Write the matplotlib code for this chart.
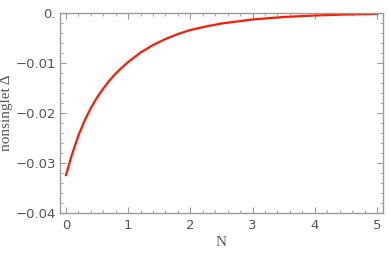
import matplotlib
matplotlib.use("Agg")
import matplotlib.pyplot as plt
from matplotlib.ticker import MultipleLocator, FuncFormatter

# values
n_vals = [0.0, 0.1, 0.2, 0.3, 0.4, 0.5, 0.6, 0.7, 0.8, 0.9, 1.0,
          1.2, 1.4, 1.6, 1.8, 2.0, 2.25, 2.5, 2.75, 3.0, 3.5, 4.0, 4.5, 5.0]
delta_vals = [-0.0324, -0.0282, -0.0245, -0.0215, -0.0190, -0.0169, -0.0151,
              -0.0135, -0.0121, -0.0109, -0.0098, -0.0079, -0.0064, -0.0052,
              -0.0042, -0.0034, -0.0027, -0.0021, -0.0017, -0.0013, -0.0008,
              -0.0005, -0.0003, -0.0002]

frame_col = "#9a9a9a"
label_col = "#555555"

fig = plt.figure(figsize=(3.9, 2.54), dpi=100)
ax = fig.add_axes([0.1538, 0.1614, 0.982 - 0.1538, 0.9488 - 0.1614])

ax.plot(n_vals, delta_vals, color="#ff1a00", lw=1.6)

ax.set_xlim(-0.096, 5.096)
ax.set_ylim(-0.04, 0.0)

ax.xaxis.set_major_locator(MultipleLocator(1))
ax.xaxis.set_minor_locator(MultipleLocator(0.2))
ax.yaxis.set_major_locator(MultipleLocator(0.01))
ax.yaxis.set_minor_locator(MultipleLocator(0.002))


def yfmt(v, pos):
    if abs(v) < 1e-12:
        return "0."
    return ("%.2f" % v).replace("-", "\u2212")


ax.yaxis.set_major_formatter(FuncFormatter(yfmt))

for side in ax.spines.values():
    side.set_color(frame_col)
    side.set_linewidth(1.0)

ax.tick_params(which="both", direction="in", top=True, right=True,
               color=frame_col, labelcolor=label_col, labelsize=9.5)
ax.tick_params(which="major", length=4.5, width=0.8)
ax.tick_params(which="minor", length=2.5, width=0.6)
ax.tick_params(axis="x", pad=4)
ax.tick_params(axis="y", pad=3)

ax.set_xlabel("N", family="Liberation Serif", fontsize=11, color=label_col, labelpad=3)
ax.set_ylabel("nonsinglet \u0394", family=["Liberation Serif", "DejaVu Serif"],
              fontsize=11, color=label_col, labelpad=2)

fig.savefig("out.png", dpi=100)
